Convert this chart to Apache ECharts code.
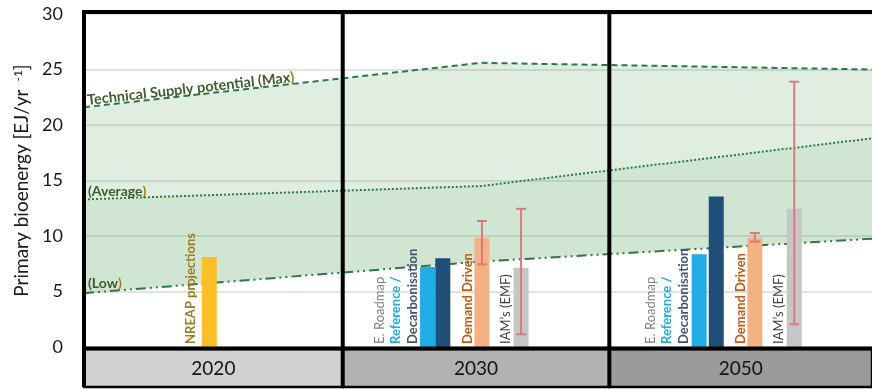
<!DOCTYPE html>
<html><head><meta charset="utf-8">
<script src="https://cdn.jsdelivr.net/npm/echarts@6/dist/echarts.min.js"></script>
<style>html,body{margin:0;padding:0;background:#fff}#chart{width:872px;height:389px}</style>
</head><body><div id="chart"></div>
<script>
// Periods along the horizontal axis
const periods = ['2020', '2030', '2050'];

// Technical supply potential envelope (EJ/yr), sampled along the x scale
const supplyX = [0, 1.51, 3];
const supplyMax = [21.6, 25.6, 25.0];
const supplyAvg = [13.3, 14.5, 18.8];
const supplyLow = [4.85, 7.7, 9.75];

// Scenario projections per period (EJ/yr)
const nreap = [8.1, null, null];
const reference = [null, 7.2, 8.35];
const decarbonisation = [null, 8.0, 13.55];
const demandDriven = [null, 9.85, 9.85];
const demandLow = [null, 7.45, 9.5];
const demandHigh = [null, 11.35, 10.27];
const iam = [null, 7.15, 12.45];
const iamLow = [null, 1.15, 2.05];
const iamHigh = [null, 12.45, 23.9];

// ---- layout ----
const FONT = 'Lato, "Open Sans", sans-serif';
const panelEdges = [0, 0.985, 2, 3];
const periodFill = ['#d0d1d0', '#b1b3b3', '#9a9c9b'];
const barX = {
  nreap: [0.477, null, null],
  reference: [null, 1.308, 2.342],
  decarbonisation: [null, 1.366, 2.407],
  demand: [null, 1.515, 2.554],
  iam: [null, 1.664, 2.704]
};
const BAR_W = 15;
const BAND_BOTTOM = 387;

const bars = [];
function addBars(values, xs, color) {
  values.forEach((v, i) => { if (v != null) bars.push({ value: [xs[i], v], color }); });
}
addBars(nreap, barX.nreap, '#fcbf26');
addBars(reference, barX.reference, '#1eaee5');
addBars(decarbonisation, barX.decarbonisation, '#1f4e79');
addBars(demandDriven, barX.demand, '#f4b183');
addBars(iam, barX.iam, '#c6c6c6');

const errors = [];
demandLow.forEach((v, i) => { if (v != null) errors.push([barX.demand[i], v, demandHigh[i]]); });
iamLow.forEach((v, i) => { if (v != null) errors.push([barX.iam[i], v, iamHigh[i]]); });

// vertical labels written beside the bars (pixel offset from bar centre)
const barLabels = [];
function addLabels(xs, lines) {
  xs.forEach(x => { if (x != null) lines.forEach(l => barLabels.push(Object.assign({ x }, l))); });
}
addLabels(barX.nreap, [{ text: 'NREAP projections', color: '#9e7b25', bold: true, dx: -18 }]);
addLabels(barX.reference, [
  { text: 'E. Roadmap', color: '#808080', bold: false, dx: -48 },
  { text: 'Reference /', color: '#1eaee5', bold: true, dx: -32 },
  { text: 'Decarbonisation', color: '#44546a', bold: true, dx: -15 }
]);
addLabels(barX.demand, [{ text: 'Demand Driven', color: '#c55a11', bold: true, dx: -14 }]);
addLabels(barX.iam, [{ text: 'IAM\u2019s (EMF)', color: '#3f3f3f', bold: false, dx: -15 }]);

const lineColor = '#2b7a44';
const labelGreen = '#3b5e2b';
const parenGold = '#a27a22';

const chart = echarts.init(document.getElementById('chart'));
chart.setOption({
  animation: false,
  grid: { left: 84, right: -2, top: 14, bottom: 42 },
  xAxis: { type: 'value', min: 0, max: 3, show: false },
  yAxis: {
    type: 'value', min: 0, max: 30, interval: 5,
    axisLine: { show: false }, axisTick: { show: false },
    axisLabel: { fontSize: 18, color: '#1a1a1a', fontFamily: FONT, margin: 21 },
    splitLine: { lineStyle: { color: '#d9d9d9', width: 1.5 } },
    name: 'Primary bioenergy [EJ/yr {sup| -1}]',
    nameLocation: 'middle', nameGap: 50,
    nameTextStyle: {
      fontSize: 19, color: '#1a1a1a', fontFamily: FONT,
      rich: { sup: { fontSize: 12, color: '#1a1a1a', fontFamily: FONT, verticalAlign: 'top', padding: [0, 0, 8, 0] } }
    }
  },
  series: [
    {
      // green envelope between low, average and maximum potential
      type: 'custom', z: 1, silent: true,
      data: [[0]],
      renderItem: (params, api) => {
        const P = (ys) => supplyX.map((x, i) => api.coord([x, ys[i]]));
        const max = P(supplyMax), avg = P(supplyAvg), low = P(supplyLow);
        return {
          type: 'group', children: [
            { type: 'polygon', shape: { points: max.concat(avg.slice().reverse()) }, style: { fill: 'rgba(80,160,85,0.18)' } },
            { type: 'polygon', shape: { points: avg.concat(low.slice().reverse()) }, style: { fill: 'rgba(80,160,90,0.27)' } }
          ]
        };
      }
    },
    {
      name: 'Max', type: 'line', z: 2, symbol: 'none', silent: true,
      data: supplyX.map((x, i) => [x, supplyMax[i]]),
      lineStyle: { color: lineColor, width: 2, type: [6, 4] }
    },
    {
      name: 'Average', type: 'line', z: 2, symbol: 'none', silent: true,
      data: supplyX.map((x, i) => [x, supplyAvg[i]]),
      lineStyle: { color: lineColor, width: 2, type: [2, 2] }
    },
    {
      name: 'Low', type: 'line', z: 2, symbol: 'none', silent: true,
      data: supplyX.map((x, i) => [x, supplyLow[i]]),
      lineStyle: { color: lineColor, width: 2, type: [10, 4, 2, 4, 2, 4] }
    },
    {
      // envelope labels
      type: 'custom', z: 5, silent: true,
      data: [[0]],
      renderItem: (params, api) => {
        const p0 = api.coord([supplyX[0], supplyMax[0]]);
        const p1 = api.coord([supplyX[1], supplyMax[1]]);
        const ang = Math.atan2(p0[1] - p1[1], p1[0] - p0[0]);
        const dx = 4;
        const mx = p0[0] + dx, my = p0[1] - dx * Math.tan(ang) + 1;
        const a0 = api.coord([supplyX[0], supplyAvg[0]]);
        const l0 = api.coord([supplyX[0], supplyLow[0]]);
        const font = (s) => ({ fontSize: s, fontWeight: 'bold', fontFamily: FONT, fill: labelGreen });
        const rich = (s) => ({ g: { fill: parenGold, fontSize: s, fontWeight: 'bold', fontFamily: FONT } });
        return {
          type: 'group', children: [
            { type: 'text', x: mx, y: my, rotation: ang,
              style: Object.assign({ text: 'Technical Supply potential (Max{g|)}', align: 'left', verticalAlign: 'bottom', rich: rich(14.5) }, font(14.5)) },
            { type: 'text', x: a0[0] + 4, y: a0[1] - 1,
              style: Object.assign({ text: '(Average{g|)}', align: 'left', verticalAlign: 'bottom', rich: rich(14) }, font(14)) },
            { type: 'text', x: l0[0] + 4, y: l0[1] - 3,
              style: Object.assign({ text: '(Low{g|)}', align: 'left', verticalAlign: 'bottom', rich: rich(14) }, font(14)) }
          ]
        };
      }
    },
    {
      // scenario bars
      type: 'custom', z: 3, silent: true,
      data: bars.map(b => b.value),
      renderItem: (params, api) => {
        const b = bars[params.dataIndex];
        const top = api.coord([api.value(0), api.value(1)]);
        const base = api.coord([api.value(0), 0]);
        return { type: 'rect', shape: { x: top[0] - BAR_W / 2, y: top[1], width: BAR_W, height: base[1] - top[1] }, style: { fill: b.color } };
      }
    },
    {
      // ranges across scenario variants
      type: 'custom', z: 4, silent: true,
      data: errors,
      renderItem: (params, api) => {
        const lo = api.coord([api.value(0), api.value(1)]);
        const hi = api.coord([api.value(0), api.value(2)]);
        const st = { stroke: '#da7a7c', lineWidth: 2 };
        return {
          type: 'group', children: [
            { type: 'line', shape: { x1: lo[0], y1: lo[1], x2: hi[0], y2: hi[1] }, style: st },
            { type: 'line', shape: { x1: lo[0] - 5, y1: lo[1], x2: lo[0] + 5, y2: lo[1] }, style: st },
            { type: 'line', shape: { x1: hi[0] - 5, y1: hi[1], x2: hi[0] + 5, y2: hi[1] }, style: st }
          ]
        };
      }
    },
    {
      // scenario names written vertically
      type: 'custom', z: 5, silent: true,
      data: barLabels.map(l => [l.x, 0]),
      renderItem: (params, api) => {
        const l = barLabels[params.dataIndex];
        const p = api.coord([api.value(0), 0]);
        return {
          type: 'text', x: p[0] + l.dx, y: p[1] - 3, rotation: Math.PI / 2,
          style: { text: l.text, fill: l.color, fontSize: 13, fontWeight: l.bold ? 'bold' : 'normal', fontFamily: FONT, align: 'left', verticalAlign: 'middle' }
        };
      }
    },
    {
      // period boxes, panel dividers and frame
      type: 'custom', z: 6, silent: true, clip: false,
      data: periods.map((p, i) => [i]),
      renderItem: (params, api) => {
        const i = params.dataIndex;
        const b0 = api.coord([panelEdges[i], 0]);
        const b1 = api.coord([panelEdges[i + 1], 0]);
        const t0 = api.coord([panelEdges[i], 30]);
        const t1 = api.coord([panelEdges[i + 1], 30]);
        const y0 = b0[1] + 2;
        const children = [
          { type: 'rect', shape: { x: b0[0], y: y0, width: b1[0] - b0[0], height: BAND_BOTTOM - y0 },
            style: { fill: periodFill[i], stroke: '#000', lineWidth: 2.5 } },
          { type: 'text', x: (b0[0] + b1[0]) / 2, y: (y0 + BAND_BOTTOM) / 2 + 1,
            style: { text: periods[i], fill: '#111', fontSize: 19, fontFamily: FONT, align: 'center', verticalAlign: 'middle' } },
          { type: 'line', shape: { x1: t0[0], y1: t0[1] - 2, x2: b0[0], y2: BAND_BOTTOM }, style: { stroke: '#000', lineWidth: 4 } },
          { type: 'line', shape: { x1: t0[0] - 2, y1: t0[1] - 2, x2: t1[0], y2: t1[1] - 2 }, style: { stroke: '#000', lineWidth: 4 } },
          { type: 'line', shape: { x1: b0[0], y1: b0[1] + 1.5, x2: b1[0], y2: b1[1] + 1.5 }, style: { stroke: '#000', lineWidth: 4 } }
        ];
        return { type: 'group', children };
      }
    }
  ]
});
</script>
</body></html>
